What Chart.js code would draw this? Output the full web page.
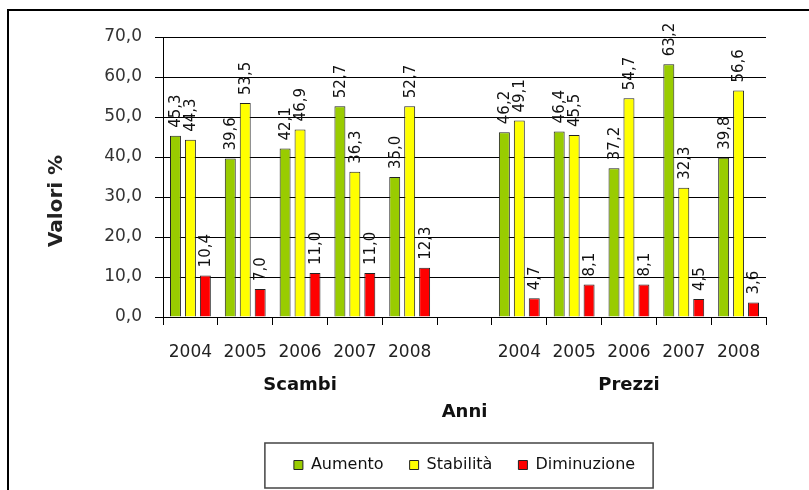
<!DOCTYPE html>
<html>
<head>
<meta charset="utf-8">
<script src="https://cdn.jsdelivr.net/npm/chart.js@4/dist/chart.umd.min.js"></script>
<style>
    body { margin: 0; background: #fff; }
    #wrap { position: relative; width: 809px; height: 490px; }
    #frame { position: absolute; left: 7px; top: 9px; right: 0; bottom: 0; border-top: 2px solid #000; border-left: 2px solid #000; pointer-events: none; }
</style>
</head>
<body>
<div id="wrap">
    <canvas id="myChart" width="809" height="490"></canvas>
    <div id="frame"></div>
</div>
<script>
// Start Data
const YEARS = ['2004', '2005', '2006', '2007', '2008'];
const CATEGORIES = [...YEARS, '', ...YEARS];
const GROUPS = ['Scambi', 'Prezzi'];

const scambiAumento = [45.3, 39.6, 42.1, 52.7, 35.0];
const scambiStabilita = [44.3, 53.5, 46.9, 36.3, 52.7];
const scambiDiminuzione = [10.4, 7.0, 11.0, 11.0, 12.3];

const prezziAumento = [46.2, 46.4, 37.2, 63.2, 39.8];
const prezziStabilita = [49.1, 45.5, 54.7, 32.3, 56.6];
const prezziDiminuzione = [4.7, 8.1, 8.1, 4.5, 3.6];

const Y_TICKS = [0, 10, 20, 30, 40, 50, 60, 70];
// !!End Data

// group label sits under the middle year of each block
const groupLabels = CATEGORIES.map(function (c, i) {
    if (i === 2) return GROUPS[0];
    if (i === 8) return GROUPS[1];
    return '';
});

function joinBlocks(a, b) {
    return [...a, null, ...b];
}

function fmt(v) {
    return v.toFixed(1).replace('.', ',');
}

Chart.defaults.font.family = "'DejaVu Sans', sans-serif";

// Start Plugins
const barLabels = {
    id: 'barLabels',
    afterDatasetsDraw(chart) {
        const ctx = chart.ctx;
        ctx.save();
        ctx.font = "15px 'DejaVu Sans', sans-serif";
        ctx.fillStyle = '#111';
        ctx.textAlign = 'left';
        ctx.textBaseline = 'middle';
        chart.data.datasets.forEach(function (ds, di) {
            const meta = chart.getDatasetMeta(di);
            meta.data.forEach(function (bar, i) {
                const v = ds.data[i];
                if (v === null || v === undefined) return;
                ctx.save();
                ctx.translate(bar.x + 1, bar.y - 8);
                ctx.rotate(-Math.PI / 2);
                ctx.fillText(fmt(v), 0, 0);
                ctx.restore();
            });
        });
        ctx.restore();
    }
};

const extras = {
    id: 'extras',
    afterDraw(chart) {
        const ctx = chart.ctx;
        const area = chart.chartArea;
        // y title (sits a bit lower than the axis middle in the original)
        ctx.save();
        ctx.font = "bold 20px 'DejaVu Sans', sans-serif";
        ctx.fillStyle = '#222';
        ctx.textAlign = 'center';
        ctx.textBaseline = 'middle';
        ctx.translate(chart.scales.y.left + 57, (area.top + area.bottom) / 2 + 24);
        ctx.rotate(-Math.PI / 2);
        ctx.fillText('Valori %', 0, 0);
        ctx.restore();

        // box round the legend
        const boxes = chart.legend.legendHitBoxes;
        if (!boxes || !boxes.length) return;
        let l = Infinity, r = -Infinity, cy = 0;
        boxes.forEach(function (b) {
            l = Math.min(l, b.left);
            r = Math.max(r, b.left + b.width);
            cy += b.top + b.height / 2;
        });
        cy = cy / boxes.length;
        ctx.save();
        ctx.strokeStyle = '#444';
        ctx.lineWidth = 1.5;
        ctx.strokeRect(l - 29, cy - 22, (r - l) + 47, 45);
        ctx.restore();
    }
};
// !!End Plugins

// Start Chart
const ctx = document.getElementById('myChart').getContext('2d');

new Chart(ctx, {
    type: 'bar',
    data: {
        labels: CATEGORIES,
        datasets: [{
            label: 'Aumento',
            data: joinBlocks(scambiAumento, prezziAumento),
            backgroundColor: '#99CC00',
            borderColor: '#222',
            borderWidth: 1
        }, {
            label: 'Stabilità',
            data: joinBlocks(scambiStabilita, prezziStabilita),
            backgroundColor: '#FFFF00',
            borderColor: '#222',
            borderWidth: 1
        }, {
            label: 'Diminuzione',
            data: joinBlocks(scambiDiminuzione, prezziDiminuzione),
            backgroundColor: '#FF0000',
            borderColor: '#222',
            borderWidth: 1
        }]
    },
    options: {
        responsive: false,
        animation: false,
        devicePixelRatio: 1,
        categoryPercentage: 0.818,
        barPercentage: 0.733,
        layout: {
            padding: { left: 0, right: 43, top: 37, bottom: 7 }
        },
        scales: {
            x: {
                position: 'bottom',
                grid: {
                    offset: true,
                    drawOnChartArea: false,
                    drawTicks: true,
                    tickLength: 8,
                    color: '#000'
                },
                border: { color: '#000', width: 1 },
                ticks: {
                    autoSkip: false,
                    maxRotation: 0,
                    padding: 17,
                    color: '#222',
                    font: { size: 17 }
                },
                afterFit: function (scale) { scale.height = 52; }
            },
            x2: {
                type: 'category',
                position: 'bottom',
                labels: groupLabels,
                grid: { display: false, drawTicks: false },
                border: { display: false },
                ticks: {
                    autoSkip: false,
                    maxRotation: 0,
                    padding: 6,
                    color: '#111',
                    font: { size: 18, weight: 'bold' }
                },
                title: {
                    display: true,
                    text: 'Anni',
                    color: '#111',
                    font: { size: 18, weight: 'bold' },
                    padding: { top: 0, bottom: 8 }
                },
                afterFit: function (scale) { scale.height = 62; }
            },
            y: {
                min: 0,
                max: 70,
                afterBuildTicks: function (scale) {
                    scale.ticks = Y_TICKS.map(function (v) { return { value: v }; });
                },
                grid: {
                    color: '#000',
                    lineWidth: 1,
                    drawTicks: true,
                    tickLength: 8
                },
                border: { color: '#000', width: 1 },
                ticks: {
                    padding: 13,
                    color: '#333',
                    font: { size: 17 },
                    callback: function (v) { return fmt(v); }
                },
                afterFit: function (scale) { scale.width = 163; }
            }
        },
        plugins: {
            legend: {
                display: true,
                position: 'bottom',
                fullSize: false,
                labels: {
                    boxWidth: 9,
                    boxHeight: 9,
                    padding: 26,
                    color: '#111',
                    font: { size: 16 }
                }
            },
            tooltip: { enabled: false }
        }
    },
    plugins: [barLabels, extras]
});
// !!End Chart
</script>
</body>
</html>
